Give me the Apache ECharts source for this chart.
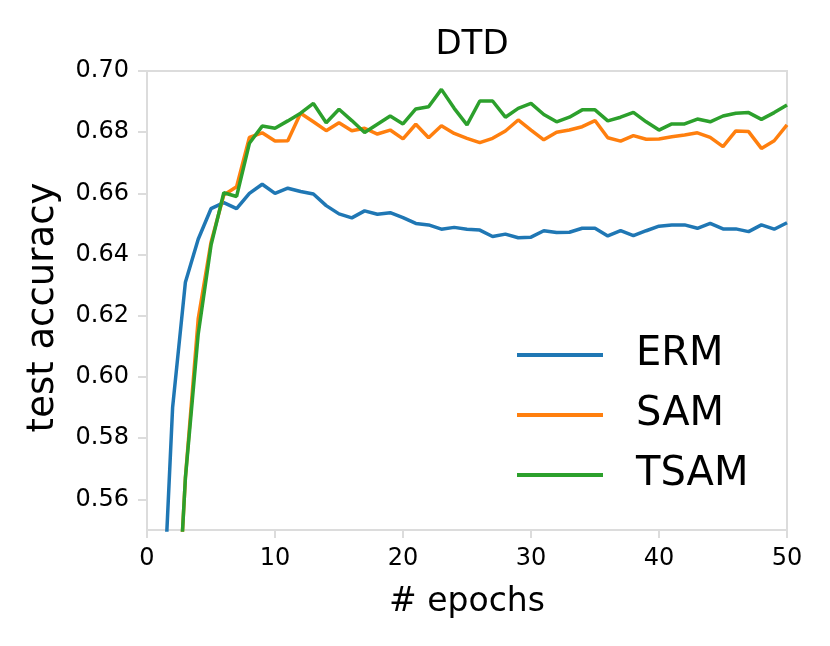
<!DOCTYPE html>
<html>
<head>
<meta charset="utf-8">
<script src="https://cdn.jsdelivr.net/npm/echarts@6/dist/echarts.min.js"></script>
<style>html,body{margin:0;padding:0;background:#fff;}#chart{width:830px;height:646px;}</style>
</head>
<body>
<div id="chart"></div>
<script>
const epochs = [1,2,3,4,5,6,7,8,9,10,11,12,13,14,15,16,17,18,19,20,21,22,23,24,25,26,27,28,29,30,31,32,33,34,35,36,37,38,39,40,41,42,43,44,45,46,47,48,49,50];
const erm = [0.500,0.590,0.631,0.645,0.655,0.657,0.655,0.660,0.663,0.660,0.6617,0.6606,0.6598,0.656,0.6533,0.652,0.6543,0.6532,0.6537,0.6521,0.6502,0.6497,0.6483,0.6489,0.6483,0.648,0.6459,0.6467,0.6455,0.6457,0.6478,0.6472,0.6473,0.6486,0.6486,0.6461,0.6478,0.6462,0.6478,0.6493,0.6497,0.6497,0.6486,0.6502,0.6484,0.6484,0.6475,0.6497,0.6483,0.6504];
const sam = [0.400,0.490,0.567,0.619,0.644,0.6595,0.6622,0.6783,0.6798,0.6771,0.6772,0.6862,0.6834,0.6805,0.6831,0.6805,0.6813,0.6794,0.6807,0.6778,0.6826,0.6782,0.6821,0.6796,0.678,0.6766,0.678,0.6804,0.684,0.6807,0.6775,0.680,0.6807,0.6818,0.6838,0.6782,0.6771,0.6789,0.6777,0.6778,0.6785,0.6791,0.6798,0.6783,0.6753,0.6804,0.6802,0.6747,0.6772,0.6824];
const tsam = [0.400,0.490,0.567,0.614,0.643,0.6602,0.659,0.6764,0.682,0.6813,0.6837,0.6862,0.6894,0.6831,0.6875,0.6838,0.6799,0.6826,0.6853,0.6827,0.6876,0.6883,0.694,0.6878,0.6824,0.6902,0.6902,0.6849,0.6878,0.6894,0.6858,0.6834,0.6849,0.6873,0.6873,0.6837,0.6849,0.6865,0.6834,0.6807,0.6827,0.6827,0.6843,0.6834,0.6853,0.6862,0.6864,0.6842,0.6864,0.6889];
const seriesNames = ['ERM','SAM','TSAM'];
const yTicks = [0.56,0.58,0.60,0.62,0.64,0.66,0.68,0.70];
const xTicks = [0,10,20,30,40,50];
const titleText = 'DTD';
const xName = '# epochs';
const yName = 'test accuracy';

const colors = ['#1f77b4','#ff7f0e','#2ca02c'];
const values = [erm, sam, tsam];
const font = 'DejaVu Sans';
const frame = '#dcdcdc';

const chart = echarts.init(document.getElementById('chart'));
chart.setOption({
  animation: false,
  backgroundColor: '#fff',
  title: {
    text: titleText, left: 467, top: 23, textAlign: 'center',
    textStyle: {fontFamily: font, fontSize: 34, fontWeight: 'normal', color: '#000'}
  },
  grid: {left: 147, right: 43, top: 71, bottom: 116, show: true, borderColor: frame, borderWidth: 2, backgroundColor: 'transparent'},
  legend: {
    orient: 'vertical', left: 512, top: 327, itemWidth: 86, itemHeight: 4, itemGap: 14, icon: 'rect',
    data: seriesNames,
    textStyle: {fontFamily: font, fontSize: 40, color: '#000', lineHeight: 46, padding: [0,0,0,28]}
  },
  xAxis: {
    type: 'value', min: 0, max: 50, interval: 10,
    name: xName, nameLocation: 'middle', nameGap: 56,
    nameTextStyle: {fontFamily: font, fontSize: 33, color: '#000'},
    axisLine: {show: true, lineStyle: {color: frame, width: 2}},
    axisTick: {show: true, length: 8, lineStyle: {color: frame, width: 2}, customValues: xTicks},
    axisLabel: {fontFamily: font, fontSize: 24, color: '#000', margin: 17, customValues: xTicks},
    splitLine: {show: false}
  },
  yAxis: {
    type: 'value', min: 0.55, max: 0.70,
    name: yName, nameLocation: 'middle', nameGap: 85, nameRotate: 90,
    nameTextStyle: {fontFamily: font, fontSize: 37, color: '#000', padding: [0,14,0,0]},
    axisLine: {show: true, lineStyle: {color: frame, width: 2}},
    axisTick: {show: true, length: 9, lineStyle: {color: frame, width: 2}, customValues: yTicks},
    axisLabel: {fontFamily: font, fontSize: 24, color: '#000', margin: 18, customValues: yTicks, formatter: v => v.toFixed(2)},
    splitLine: {show: false}
  },
  series: seriesNames.map((n, i) => ({
    name: n, type: 'line', symbol: 'none', clip: true,
    data: epochs.map((e, j) => [e, values[i][j]]),
    lineStyle: {color: colors[i], width: 3.5},
    itemStyle: {color: colors[i]}
  }))
});
</script>
</body>
</html>
